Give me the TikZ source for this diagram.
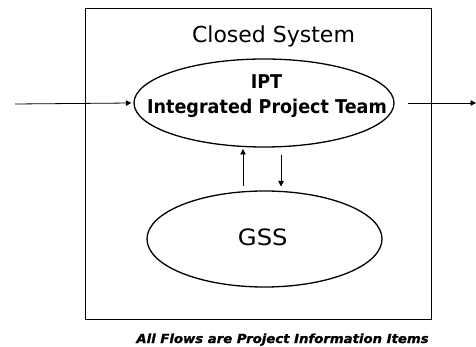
\documentclass[tikz,border=0pt]{standalone}
\usepackage{fontspec}
\usetikzlibrary{arrows.meta,shapes.geometric}
\newfontfamily\titlefont{DejaVu Sans}
\newfontfamily\gssfont[FakeStretch=1.08]{DejaVu Sans}
\newfontfamily\iptfont[FakeStretch=0.925]{DejaVu Sans Bold}
\newfontfamily\notefont[FakeStretch=1.06,FakeBold=1.2]{DejaVu Sans Bold Oblique}
\begin{document}
\begin{tikzpicture}[x=1pt,y=-1pt,
  oval/.style={draw,ellipse,line width=1.3pt,inner sep=0pt},
  flow/.style={draw,line width=0.8pt,-{Triangle[length=5.5pt,width=5.5pt]}},
  lbl/.style={inner sep=0pt,anchor=base}]
\useasboundingbox (0,0) rectangle (476,347);
\node[draw,line width=0.9pt,minimum width=346pt,minimum height=311pt,inner sep=0pt] (sys) at (258,163.5) {};
\node[lbl] (title) at (273.5,42.7) {\titlefont\fontsize{22}{26}\selectfont Closed System};
\node[oval,minimum width=260pt,minimum height=88pt] (ipt) at (264,103) {};
\node[lbl] (iptA) at (266.5,88.3) {\iptfont\fontsize{19}{23}\selectfont IPT};
\node[lbl] (iptB) at (267,113.3) {\iptfont\fontsize{19}{23}\selectfont Integrated Project Team};
\node[oval,minimum width=235pt,minimum height=96pt] (gss) at (264.5,239) {};
\node[lbl] (gssL) at (262.8,245) {\gssfont\fontsize{22.5}{26}\selectfont GSS};
\node[lbl] (note) at (282.5,343) {\notefont\fontsize{12.5}{15}\selectfont All Flows are Project Information Items};
\coordinate (inL) at (15,104);
\coordinate (outR) at (476,103);
\coordinate (upS) at (243,186);
\coordinate (upE) at (243,149);
\coordinate (dnS) at (281,155);
\coordinate (dnE) at (281,186.5);
\draw[flow] (inL) -- ([xshift=-2pt]ipt.west);
\draw[flow] ([xshift=13pt]ipt.east) -- (outR);
\draw[flow] (upS) -- (upE);
\draw[flow] (dnS) -- (dnE);
\end{tikzpicture}
\end{document}
